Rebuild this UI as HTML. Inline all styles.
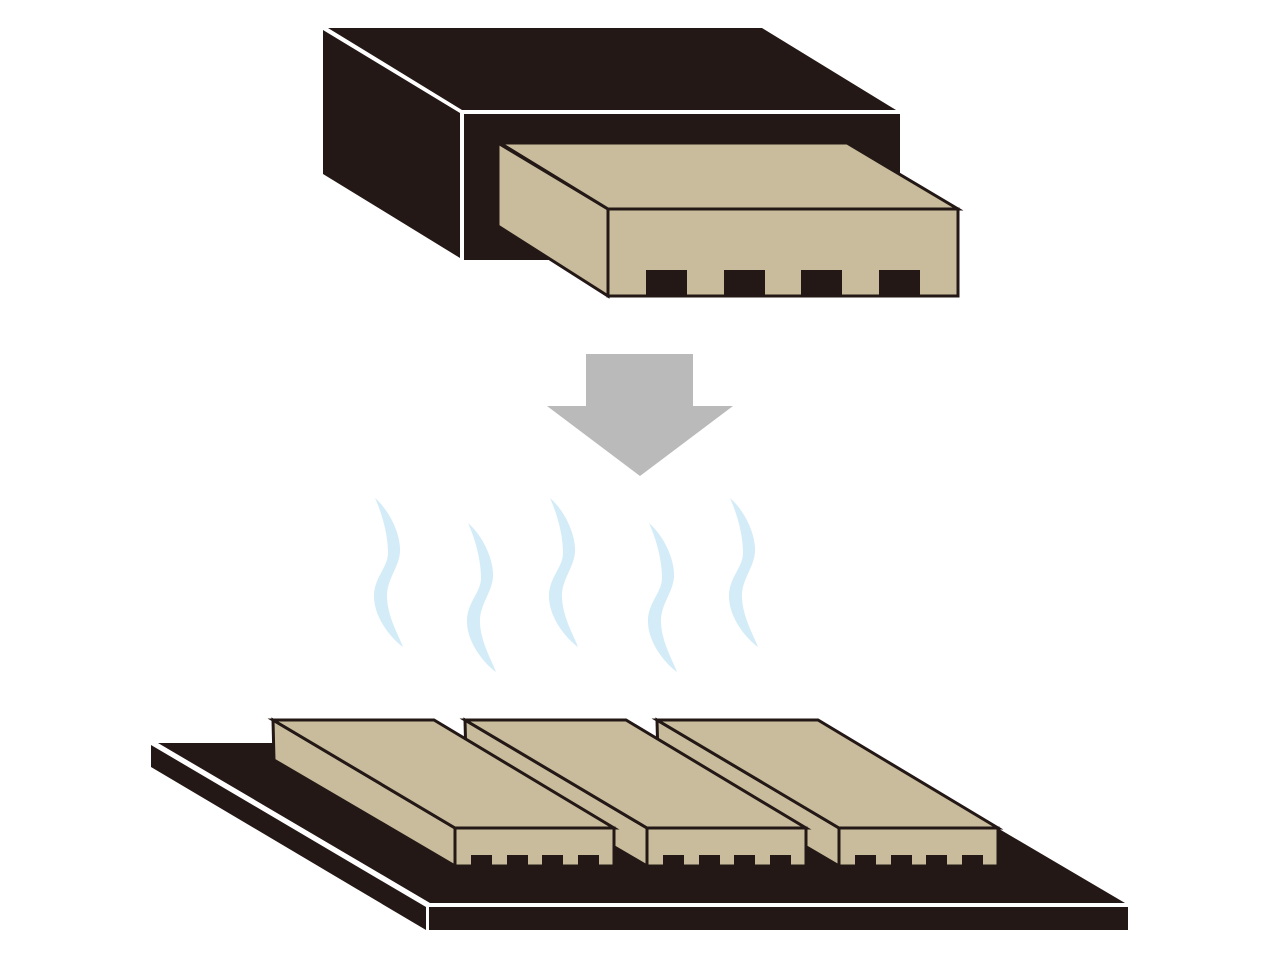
<!DOCTYPE html>
<html><head><style>html,body{margin:0;padding:0;background:#fff}svg{display:block}</style></head>
<body>
<svg width="1280" height="960" viewBox="0 0 1280 960" xmlns="http://www.w3.org/2000/svg">
<defs>
<path id="steam" d="M0,0 C16,14 26,38 25,54 C24,70 11,82 12,100 C13,120 24,138 28,149 C18,142 0,122 -1,100 C-2,80 13,70 13,55 C13,38 8,18 0,0 Z" fill="#d4ecf8"/>
<g id="chip" stroke="#231816" stroke-width="3" stroke-linejoin="miter">
<polygon points="273,720 455,828 455,866 274,760" fill="#c8bc9c"/>
<polygon points="273,720 434,720 614,828 455,828" fill="#c8bc9c"/>
<rect x="455" y="828" width="159" height="38" fill="#c8bc9c"/>
<g fill="#231816" stroke="none">
<rect x="471" y="855" width="21" height="11"/><rect x="507" y="855" width="21" height="11"/>
<rect x="542" y="855" width="21" height="11"/><rect x="578" y="855" width="21" height="11"/>
</g>
</g>
</defs>
<polygon points="328,28 762,28 896,110 462,110" fill="#231816"/>
<polygon points="323,30 460,113 460,258 323,174" fill="#231816"/>
<rect x="464" y="114" width="436" height="146" fill="#231816"/>
<g stroke="#231816" stroke-width="3">
<polygon points="498,143 608,209 608,296 498,226" fill="#c8bc9c"/>
<polygon points="500,143 847,143 958,209 608,209" fill="#c8bc9c"/>
<rect x="608" y="209" width="350" height="87" fill="#c8bc9c"/>
</g>
<g fill="#231816">
<rect x="646" y="270" width="41" height="26"/><rect x="724" y="270" width="41" height="26"/>
<rect x="801" y="270" width="41" height="26"/><rect x="879" y="270" width="41" height="26"/>
</g>
<polygon points="586,354 693,354 693,406 733,406 640,476 547,406 586,406" fill="#bababa"/>
<use href="#steam" transform="translate(375,498)"/>
<use href="#steam" transform="translate(468,523)"/>
<use href="#steam" transform="translate(550,498)"/>
<use href="#steam" transform="translate(649,523)"/>
<use href="#steam" transform="translate(730,498)"/>
<polygon points="158,743 853,743 1125,903 430,903" fill="#231816"/>
<polygon points="151,745 426,907 426,930 151,767" fill="#231816"/>
<rect x="429" y="907" width="699" height="23" fill="#231816"/>
<use href="#chip" transform="translate(384,0)"/>
<use href="#chip" transform="translate(192,0)"/>
<use href="#chip"/>
</svg>
</body></html>
